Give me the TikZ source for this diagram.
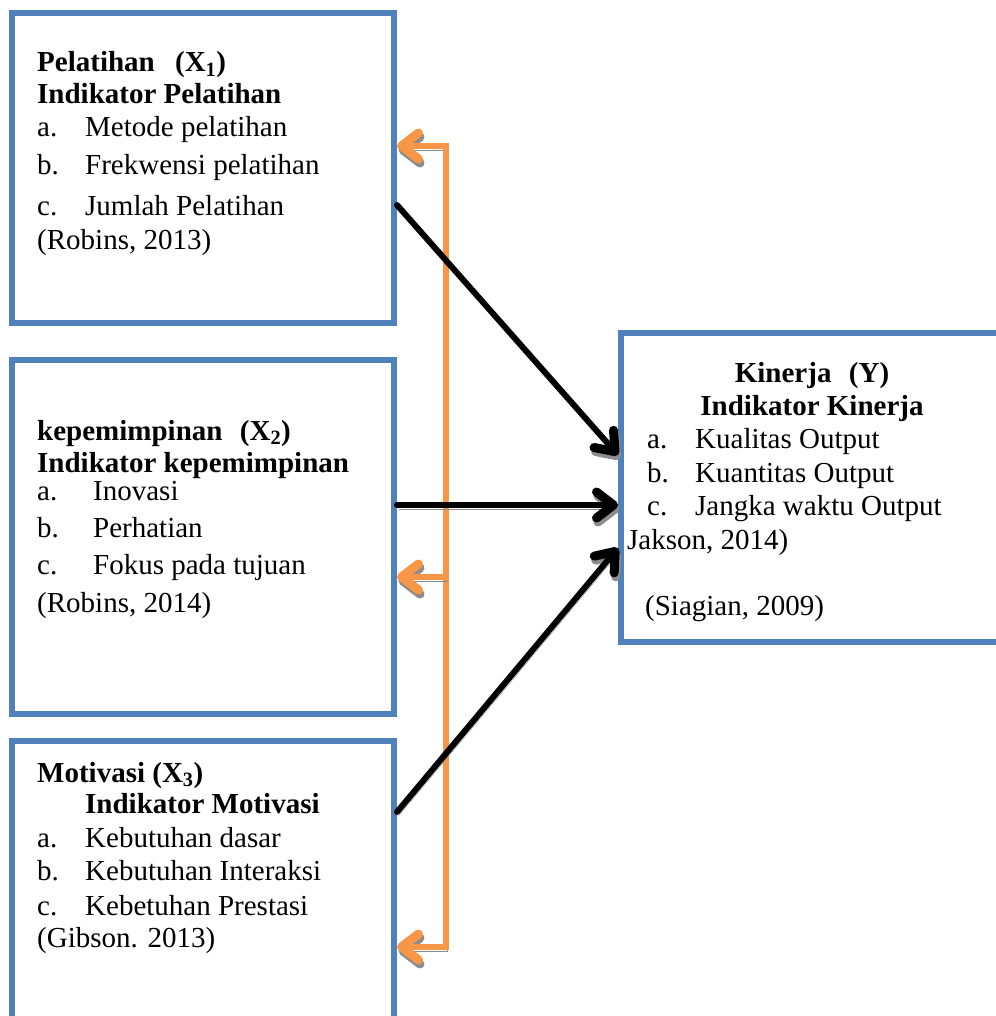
\documentclass[tikz,border=0pt]{standalone}
\usepackage{fontspec}
\setmainfont{Liberation Serif}
\usetikzlibrary{arrows.meta, positioning}
\definecolor{boxblue}{HTML}{4F81BD}
\definecolor{linkorange}{HTML}{F79646}

\begin{document}
\begin{tikzpicture}[x=1pt,y=-1pt,
  every box/.style={draw=boxblue,line width=6pt,fill=white,inner sep=0pt},
  txt/.style={anchor=base west,inner sep=0pt,font=\fontsize{29}{34}\selectfont},
  hd/.style={txt,font=\fontsize{29}{34}\selectfont\bfseries},
  barb/.tip={Straight Barb[length=17pt,width=26pt,line width=9pt,round]},
  shade/.style={preaction={draw=black!45,transform canvas={xshift=1.5pt,yshift=-4pt}}},
  link/.style={line width=6pt,line cap=round,shade,-barb},
  back/.style={link,line width=5.5pt,draw=linkorange},
  back2/.style={back,barb-barb}]
  \useasboundingbox (0,0) rectangle (995,1016);

  \node[every box,minimum width=382pt,minimum height=310pt] (pel) at (203,168)   {};
  \node[every box,minimum width=382pt,minimum height=354pt] (kep) at (203,537)   {};
  \node[every box,minimum width=382pt,minimum height=290pt] (mot) at (203,886)   {};
  \node[every box,minimum width=400pt,minimum height=309pt] (kin) at (821,487.5) {};

  % Pelatihan
  \node[hd]  (pelA) at (37,72)  {Pelatihan\hspace{0.7em}(X\textsubscript{1})};
  \node[hd]  (pelB) at (37,104) {Indikator Pelatihan};
  \node[txt] (pel1) at (37,137) {\makebox[48pt][l]{a.}Metode pelatihan};
  \node[txt] (pel2) at (37,175) {\makebox[48pt][l]{b.}Frekwensi pelatihan};
  \node[txt] (pel3) at (37,215) {\makebox[48pt][l]{c.}Jumlah Pelatihan};
  \node[txt] (pelS) at (37,249) {(Robins, 2013)};

  % kepemimpinan
  \node[hd]  (kepA) at (37,440) {kepemimpinan\hspace{0.6em}(X\textsubscript{2})};
  \node[hd]  (kepB) at (37,472) {Indikator kepemimpinan};
  \node[txt] (kep1) at (37,500) {\makebox[56pt][l]{a.}Inovasi};
  \node[txt] (kep2) at (37,537) {\makebox[56pt][l]{b.}Perhatian};
  \node[txt] (kep3) at (37,574) {\makebox[56pt][l]{c.}Fokus pada tujuan};
  \node[txt] (kepS) at (37,612) {(Robins, 2014)};

  % Motivasi
  \node[hd]  (motA) at (37,782) {Motivasi (X\textsubscript{3})};
  \node[hd]  (motB) at (85,813) {Indikator Motivasi};
  \node[txt] (mot1) at (37,847) {\makebox[48pt][l]{a.}Kebutuhan dasar};
  \node[txt] (mot2) at (37,880) {\makebox[48pt][l]{b.}Kebutuhan Interaksi};
  \node[txt] (mot3) at (37,915) {\makebox[48pt][l]{c.}Kebetuhan Prestasi};
  \node[txt] (motS) at (37,947) {(Gibson. 2013)};

  % Kinerja
  \node[hd,anchor=base] (kinA) at (812,382) {Kinerja\hspace{0.6em}(Y)};
  \node[hd,anchor=base] (kinB) at (812,415) {Indikator Kinerja};
  \node[txt] (kin1) at (647,448) {\makebox[48pt][l]{a.}Kualitas Output};
  \node[txt] (kin2) at (647,482) {\makebox[48pt][l]{b.}Kuantitas Output};
  \node[txt] (kin3) at (647,515) {\makebox[48pt][l]{c.}Jangka waktu Output};
  \node[txt] (kinS) at (627,549) {Jakson, 2014)};
  \node[txt] (kinT) at (645,615) {(Siagian, 2009)};

  % feedback line
  \coordinate (top) at (446,146);
  \coordinate (mid) at (446,577);
  \coordinate (bot) at (446,947);
  \draw[back2] (pel.east |- top) -- (top) -- (bot) -- (mot.east |- bot);
  \draw[back]  (mid) -- (kep.east |- mid);

  \draw[link] ([shift={(0,37)}]pel.east)  -- ([shift={(0,-32.5)}]kin.west);
  \draw[link] ([shift={(0,-32)}]kep.east) -- ([shift={(0,17.5)}]kin.west);
  \draw[link] ([shift={(0,-74)}]mot.east) -- ([shift={(0,60.5)}]kin.west);
\end{tikzpicture}
\end{document}
